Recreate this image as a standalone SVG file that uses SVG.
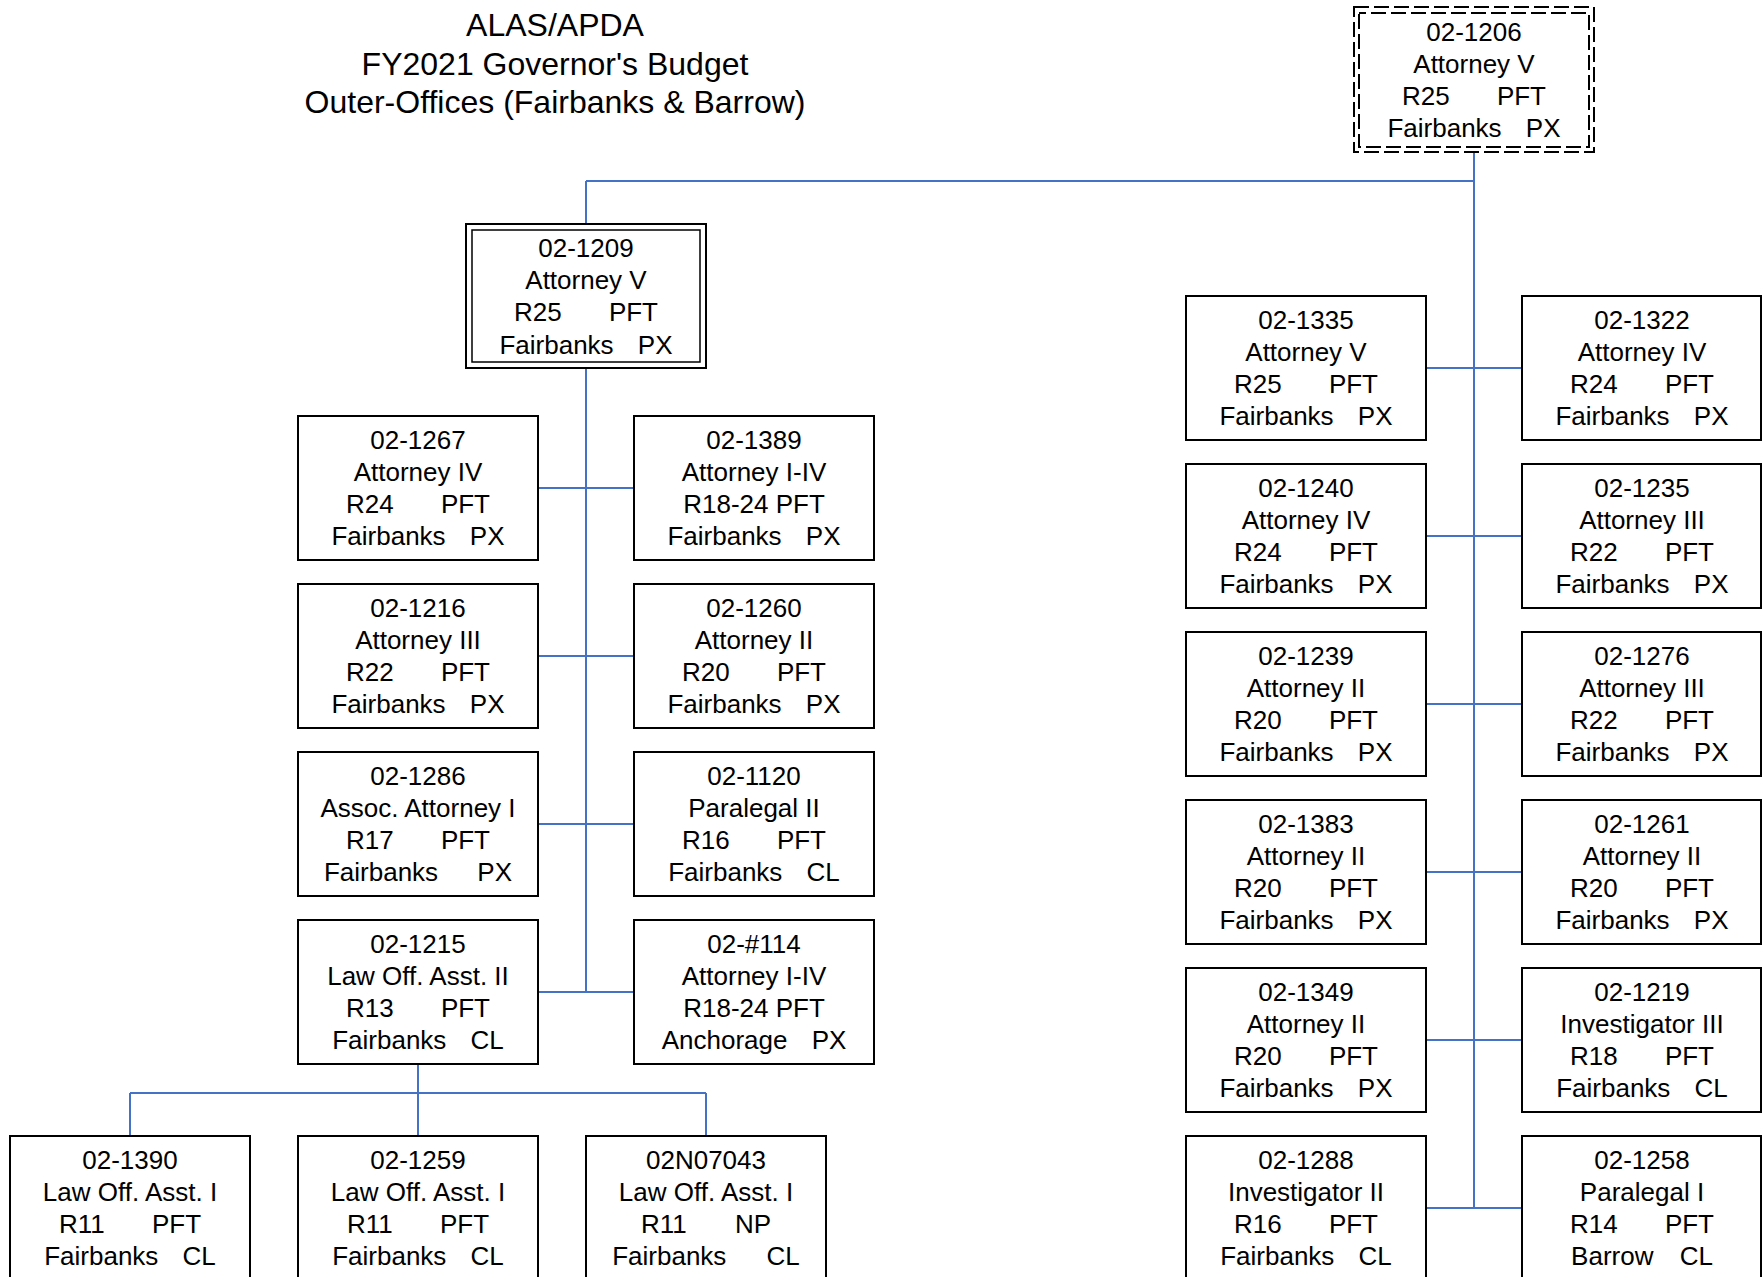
<svg xmlns="http://www.w3.org/2000/svg" width="1762" height="1277" viewBox="0 0 1762 1277">
<style>
.bg{fill:#fff}
.box{fill:#fff;stroke:#000;stroke-width:2}
.dbl{fill:none;stroke:#000;stroke-width:1.5}
.dash{fill:none;stroke:#000;stroke-width:2;stroke-dasharray:15 5}
.t{font-family:"Liberation Sans",Arial,sans-serif;font-size:26px;text-anchor:middle;fill:#000}
.title{font-family:"Liberation Sans",Arial,sans-serif;font-size:32px;text-anchor:middle;fill:#000}
.c{stroke:#4472C4;stroke-width:2;fill:none}
</style>
<rect class="bg" x="0" y="0" width="1762" height="1277"/>
<g id="title">
<text class="title" x="555" y="36">ALAS/APDA</text>
<text class="title" x="555" y="75">FY2021 Governor's Budget</text>
<text class="title" x="555" y="113">Outer-Offices (Fairbanks &amp; Barrow)</text>
</g>
<g id="connectors">
<path class="c" d="M1474 152V1208M586 181H1474M586 181V224"/>
<path class="c" d="M1426 368H1522M1426 536H1522M1426 704H1522M1426 872H1522M1426 1040H1522M1426 1208H1522"/>
<path class="c" d="M586 368V992M538 488H634M538 656H634M538 824H634M538 992H634"/>
<path class="c" d="M418 1064V1093M130 1093H706M130 1093V1136M418 1093V1136M706 1093V1136"/>
</g>
<g id="n02-1206">
<rect class="dash" x="1354" y="7" width="240" height="145"/>
<rect class="dash" x="1359" y="13" width="230" height="134" stroke-dashoffset="8"/>
<text class="t" x="1474" y="41"><tspan x="1474">02-1206</tspan><tspan x="1474" dy="32">Attorney V</tspan><tspan x="1474" dy="32">R25<tspan dx="40"> PFT</tspan></tspan><tspan x="1474" dy="32">Fairbanks<tspan dx="17"> PX</tspan></tspan></text>
</g>
<g id="n02-1209">
<rect class="box" x="466" y="224" width="240" height="144" stroke-width="2.5"/>
<rect class="dbl" x="472" y="230" width="228" height="132"/>
<text class="t" x="586" y="257"><tspan x="586">02-1209</tspan><tspan x="586" dy="32.2">Attorney V</tspan><tspan x="586" dy="32.2">R25<tspan dx="40"> PFT</tspan></tspan><tspan x="586" dy="32.2">Fairbanks<tspan dx="17"> PX</tspan></tspan></text>
</g>
<g id="n02-1267">
<rect class="box" x="298" y="416" width="240" height="144"/>
<text class="t" x="418" y="448.5"><tspan x="418">02-1267</tspan><tspan x="418" dy="32.3">Attorney IV</tspan><tspan x="418" dy="32.3">R24<tspan dx="40"> PFT</tspan></tspan><tspan x="418" dy="32.3">Fairbanks<tspan dx="17"> PX</tspan></tspan></text>
</g>
<g id="n02-1389">
<rect class="box" x="634" y="416" width="240" height="144"/>
<text class="t" x="754" y="448.5"><tspan x="754">02-1389</tspan><tspan x="754" dy="32.3">Attorney I-IV</tspan><tspan x="754" dy="32.3">R18-24 PFT</tspan><tspan x="754" dy="32.3">Fairbanks<tspan dx="17"> PX</tspan></tspan></text>
</g>
<g id="n02-1216">
<rect class="box" x="298" y="584" width="240" height="144"/>
<text class="t" x="418" y="616.5"><tspan x="418">02-1216</tspan><tspan x="418" dy="32.3">Attorney III</tspan><tspan x="418" dy="32.3">R22<tspan dx="40"> PFT</tspan></tspan><tspan x="418" dy="32.3">Fairbanks<tspan dx="17"> PX</tspan></tspan></text>
</g>
<g id="n02-1260">
<rect class="box" x="634" y="584" width="240" height="144"/>
<text class="t" x="754" y="616.5"><tspan x="754">02-1260</tspan><tspan x="754" dy="32.3">Attorney II</tspan><tspan x="754" dy="32.3">R20<tspan dx="40"> PFT</tspan></tspan><tspan x="754" dy="32.3">Fairbanks<tspan dx="17"> PX</tspan></tspan></text>
</g>
<g id="n02-1286">
<rect class="box" x="298" y="752" width="240" height="144"/>
<text class="t" x="418" y="784.5"><tspan x="418">02-1286</tspan><tspan x="418" dy="32.3">Assoc. Attorney I</tspan><tspan x="418" dy="32.3">R17<tspan dx="40"> PFT</tspan></tspan><tspan x="418" dy="32.3">Fairbanks<tspan dx="32"> PX</tspan></tspan></text>
</g>
<g id="n02-1120">
<rect class="box" x="634" y="752" width="240" height="144"/>
<text class="t" x="754" y="784.5"><tspan x="754">02-1120</tspan><tspan x="754" dy="32.3">Paralegal II</tspan><tspan x="754" dy="32.3">R16<tspan dx="40"> PFT</tspan></tspan><tspan x="754" dy="32.3">Fairbanks<tspan dx="17"> CL</tspan></tspan></text>
</g>
<g id="n02-1215">
<rect class="box" x="298" y="920" width="240" height="144"/>
<text class="t" x="418" y="952.5"><tspan x="418">02-1215</tspan><tspan x="418" dy="32.3">Law Off. Asst. II</tspan><tspan x="418" dy="32.3">R13<tspan dx="40"> PFT</tspan></tspan><tspan x="418" dy="32.3">Fairbanks<tspan dx="17"> CL</tspan></tspan></text>
</g>
<g id="n02-114">
<rect class="box" x="634" y="920" width="240" height="144"/>
<text class="t" x="754" y="952.5"><tspan x="754">02-#114</tspan><tspan x="754" dy="32.3">Attorney I-IV</tspan><tspan x="754" dy="32.3">R18-24 PFT</tspan><tspan x="754" dy="32.3">Anchorage<tspan dx="17"> PX</tspan></tspan></text>
</g>
<g id="n02-1390">
<rect class="box" x="10" y="1136" width="240" height="144"/>
<text class="t" x="130" y="1168.5"><tspan x="130">02-1390</tspan><tspan x="130" dy="32.3">Law Off. Asst. I</tspan><tspan x="130" dy="32.3">R11<tspan dx="40"> PFT</tspan></tspan><tspan x="130" dy="32.3">Fairbanks<tspan dx="17"> CL</tspan></tspan></text>
</g>
<g id="n02-1259">
<rect class="box" x="298" y="1136" width="240" height="144"/>
<text class="t" x="418" y="1168.5"><tspan x="418">02-1259</tspan><tspan x="418" dy="32.3">Law Off. Asst. I</tspan><tspan x="418" dy="32.3">R11<tspan dx="40"> PFT</tspan></tspan><tspan x="418" dy="32.3">Fairbanks<tspan dx="17"> CL</tspan></tspan></text>
</g>
<g id="n02N07043">
<rect class="box" x="586" y="1136" width="240" height="144"/>
<text class="t" x="706" y="1168.5"><tspan x="706">02N07043</tspan><tspan x="706" dy="32.3">Law Off. Asst. I</tspan><tspan x="706" dy="32.3">R11<tspan dx="41"> NP</tspan></tspan><tspan x="706" dy="32.3">Fairbanks<tspan dx="33"> CL</tspan></tspan></text>
</g>
<g id="n02-1335">
<rect class="box" x="1186" y="296" width="240" height="144"/>
<text class="t" x="1306" y="328.5"><tspan x="1306">02-1335</tspan><tspan x="1306" dy="32.3">Attorney V</tspan><tspan x="1306" dy="32.3">R25<tspan dx="40"> PFT</tspan></tspan><tspan x="1306" dy="32.3">Fairbanks<tspan dx="17"> PX</tspan></tspan></text>
</g>
<g id="n02-1322">
<rect class="box" x="1522" y="296" width="239" height="144"/>
<text class="t" x="1642" y="328.5"><tspan x="1642">02-1322</tspan><tspan x="1642" dy="32.3">Attorney IV</tspan><tspan x="1642" dy="32.3">R24<tspan dx="40"> PFT</tspan></tspan><tspan x="1642" dy="32.3">Fairbanks<tspan dx="17"> PX</tspan></tspan></text>
</g>
<g id="n02-1240">
<rect class="box" x="1186" y="464" width="240" height="144"/>
<text class="t" x="1306" y="496.5"><tspan x="1306">02-1240</tspan><tspan x="1306" dy="32.3">Attorney IV</tspan><tspan x="1306" dy="32.3">R24<tspan dx="40"> PFT</tspan></tspan><tspan x="1306" dy="32.3">Fairbanks<tspan dx="17"> PX</tspan></tspan></text>
</g>
<g id="n02-1235">
<rect class="box" x="1522" y="464" width="239" height="144"/>
<text class="t" x="1642" y="496.5"><tspan x="1642">02-1235</tspan><tspan x="1642" dy="32.3">Attorney III</tspan><tspan x="1642" dy="32.3">R22<tspan dx="40"> PFT</tspan></tspan><tspan x="1642" dy="32.3">Fairbanks<tspan dx="17"> PX</tspan></tspan></text>
</g>
<g id="n02-1239">
<rect class="box" x="1186" y="632" width="240" height="144"/>
<text class="t" x="1306" y="664.5"><tspan x="1306">02-1239</tspan><tspan x="1306" dy="32.3">Attorney II</tspan><tspan x="1306" dy="32.3">R20<tspan dx="40"> PFT</tspan></tspan><tspan x="1306" dy="32.3">Fairbanks<tspan dx="17"> PX</tspan></tspan></text>
</g>
<g id="n02-1276">
<rect class="box" x="1522" y="632" width="239" height="144"/>
<text class="t" x="1642" y="664.5"><tspan x="1642">02-1276</tspan><tspan x="1642" dy="32.3">Attorney III</tspan><tspan x="1642" dy="32.3">R22<tspan dx="40"> PFT</tspan></tspan><tspan x="1642" dy="32.3">Fairbanks<tspan dx="17"> PX</tspan></tspan></text>
</g>
<g id="n02-1383">
<rect class="box" x="1186" y="800" width="240" height="144"/>
<text class="t" x="1306" y="832.5"><tspan x="1306">02-1383</tspan><tspan x="1306" dy="32.3">Attorney II</tspan><tspan x="1306" dy="32.3">R20<tspan dx="40"> PFT</tspan></tspan><tspan x="1306" dy="32.3">Fairbanks<tspan dx="17"> PX</tspan></tspan></text>
</g>
<g id="n02-1261">
<rect class="box" x="1522" y="800" width="239" height="144"/>
<text class="t" x="1642" y="832.5"><tspan x="1642">02-1261</tspan><tspan x="1642" dy="32.3">Attorney II</tspan><tspan x="1642" dy="32.3">R20<tspan dx="40"> PFT</tspan></tspan><tspan x="1642" dy="32.3">Fairbanks<tspan dx="17"> PX</tspan></tspan></text>
</g>
<g id="n02-1349">
<rect class="box" x="1186" y="968" width="240" height="144"/>
<text class="t" x="1306" y="1000.5"><tspan x="1306">02-1349</tspan><tspan x="1306" dy="32.3">Attorney II</tspan><tspan x="1306" dy="32.3">R20<tspan dx="40"> PFT</tspan></tspan><tspan x="1306" dy="32.3">Fairbanks<tspan dx="17"> PX</tspan></tspan></text>
</g>
<g id="n02-1219">
<rect class="box" x="1522" y="968" width="239" height="144"/>
<text class="t" x="1642" y="1000.5"><tspan x="1642">02-1219</tspan><tspan x="1642" dy="32.3">Investigator III</tspan><tspan x="1642" dy="32.3">R18<tspan dx="40"> PFT</tspan></tspan><tspan x="1642" dy="32.3">Fairbanks<tspan dx="17"> CL</tspan></tspan></text>
</g>
<g id="n02-1288">
<rect class="box" x="1186" y="1136" width="240" height="144"/>
<text class="t" x="1306" y="1168.5"><tspan x="1306">02-1288</tspan><tspan x="1306" dy="32.3">Investigator II</tspan><tspan x="1306" dy="32.3">R16<tspan dx="40"> PFT</tspan></tspan><tspan x="1306" dy="32.3">Fairbanks<tspan dx="17"> CL</tspan></tspan></text>
</g>
<g id="n02-1258">
<rect class="box" x="1522" y="1136" width="239" height="144"/>
<text class="t" x="1642" y="1168.5"><tspan x="1642">02-1258</tspan><tspan x="1642" dy="32.3">Paralegal I</tspan><tspan x="1642" dy="32.3">R14<tspan dx="40"> PFT</tspan></tspan><tspan x="1642" dy="32.3">Barrow<tspan dx="19"> CL</tspan></tspan></text>
</g>
</svg>
